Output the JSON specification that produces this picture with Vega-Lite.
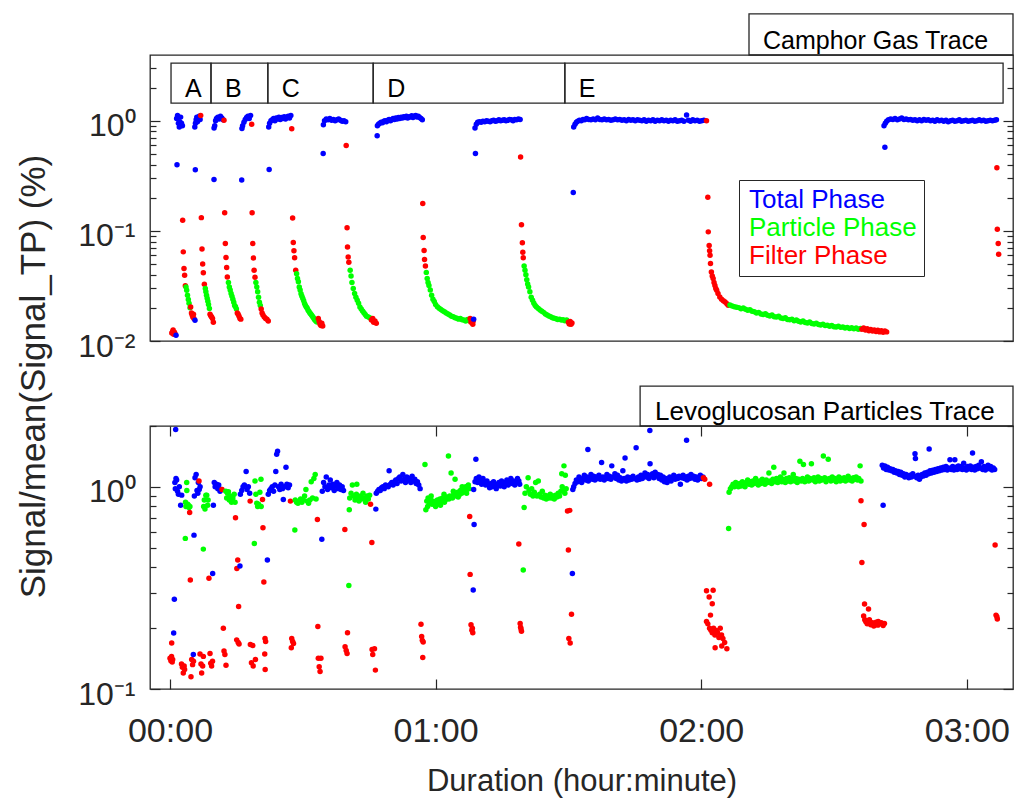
{
"$schema":"https://vega.github.io/schema/vega-lite/v6.json",
"autosize":{"type":"none"},
"padding":{"left":150,"top":55,"right":864,"bottom":745},
"background":"white",
"config":{"font":"Liberation Sans","view":{"stroke":"#262626","strokeWidth":1.3},
"axis":{"domain":false,"grid":false,"labelColor":"#262626","titleColor":"#262626","tickColor":"#262626","labelFont":"Liberation Sans","titleFont":"Liberation Sans","titleFontWeight":"normal","labelFontSize":32,"titleFontSize":32,"tickWidth":1.2,"labelOverlap":false,"labelFlush":false}},
"datasets":{
"camphor":[
{"t":0.4,"v":0.0118,"p":"F"},{"t":0.6,"v":0.0122,"p":"F"},{"t":0.7,"v":0.0126,"p":"F"},{"t":0.8,"v":0.0115,"p":"F"},{"t":1.0,"v":0.012,"p":"F"},{"t":1.1,"v":0.0117,"p":"F"},{"t":1.36,"v":0.0113,"p":"T"},
{"t":1.5,"v":1.05,"p":"T"},{"t":1.58,"v":0.398,"p":"T"},{"t":1.7,"v":1.12,"p":"T"},{"t":1.9,"v":0.95,"p":"T"},{"t":2.1,"v":0.88,"p":"T"},{"t":2.2,"v":0.98,"p":"T"},{"t":2.4,"v":1.08,"p":"T"},{"t":2.6,"v":0.95,"p":"T"},{"t":2.8,"v":0.9,"p":"T"},
{"t":2.86,"v":0.125,"p":"F"},{"t":3.0,"v":0.0645,"p":"F"},{"t":3.16,"v":0.0455,"p":"F"},{"t":3.3,"v":0.0395,"p":"F"},{"t":3.46,"v":0.0318,"p":"F"},
{"t":3.62,"v":0.031,"p":"P"},{"t":3.77,"v":0.0289,"p":"P"},{"t":3.95,"v":0.026,"p":"P"},{"t":4.14,"v":0.0238,"p":"P"},{"t":4.3,"v":0.022,"p":"P"},{"t":4.52,"v":0.02,"p":"P"},
{"t":4.67,"v":0.0204,"p":"F"},{"t":4.85,"v":0.018,"p":"F"},{"t":5.0,"v":0.0172,"p":"F"},{"t":5.15,"v":0.0165,"p":"F"},{"t":5.3,"v":0.0175,"p":"F"},{"t":5.4,"v":0.016,"p":"F"},
{"t":5.6,"v":0.88,"p":"T"},{"t":5.65,"v":0.0154,"p":"T"},{"t":5.72,"v":0.359,"p":"T"},{"t":5.75,"v":0.95,"p":"T"},{"t":5.9,"v":1.02,"p":"T"},{"t":6.05,"v":1.08,"p":"T"},{"t":6.2,"v":0.98,"p":"T"},{"t":6.4,"v":1.05,"p":"T"},{"t":6.6,"v":1.1,"p":"T"},{"t":6.8,"v":1.03,"p":"T"},
{"t":6.93,"v":1.12,"p":"F"},{"t":7.08,"v":0.132,"p":"F"},{"t":7.23,"v":0.0686,"p":"F"},{"t":7.38,"v":0.05,"p":"F"},{"t":7.53,"v":0.0416,"p":"F"},{"t":7.76,"v":0.0327,"p":"F"},
{"t":7.98,"v":0.03,"p":"P"},{"t":8.1,"v":0.028,"p":"P"},{"t":8.25,"v":0.026,"p":"P"},{"t":8.4,"v":0.0245,"p":"P"},{"t":8.55,"v":0.023,"p":"P"},{"t":8.7,"v":0.0215,"p":"P"},{"t":8.9,"v":0.0197,"p":"P"},
{"t":9.04,"v":0.0175,"p":"F"},{"t":9.2,"v":0.017,"p":"F"},{"t":9.4,"v":0.0165,"p":"F"},{"t":9.6,"v":0.016,"p":"F"},{"t":9.79,"v":0.0148,"p":"F"},
{"t":9.94,"v":0.293,"p":"T"},{"t":9.95,"v":0.86,"p":"T"},{"t":10.1,"v":0.9,"p":"T"},{"t":10.3,"v":1.0,"p":"T"},{"t":10.5,"v":1.05,"p":"T"},{"t":10.8,"v":1.08,"p":"T"},{"t":11.1,"v":1.04,"p":"T"},{"t":11.4,"v":1.1,"p":"T"},{"t":11.7,"v":1.06,"p":"T"},{"t":12.0,"v":1.02,"p":"T"},
{"t":12.2,"v":1.01,"p":"F"},{"t":12.35,"v":0.146,"p":"F"},{"t":12.5,"v":0.0767,"p":"F"},{"t":12.65,"v":0.0573,"p":"F"},{"t":12.8,"v":0.0465,"p":"F"},{"t":12.95,"v":0.0382,"p":"F"},
{"t":13.2,"v":0.034,"p":"P"},{"t":13.4,"v":0.031,"p":"P"},{"t":13.6,"v":0.029,"p":"P"},{"t":13.8,"v":0.027,"p":"P"},{"t":14.0,"v":0.0255,"p":"P"},{"t":14.2,"v":0.024,"p":"P"},{"t":14.4,"v":0.0225,"p":"P"},{"t":14.6,"v":0.021,"p":"P"},{"t":14.8,"v":0.0205,"p":"P"},{"t":15.0,"v":0.0195,"p":"P"},
{"t":15.2,"v":0.018,"p":"F"},{"t":15.4,"v":0.0175,"p":"F"},{"t":15.6,"v":0.0168,"p":"F"},{"t":15.8,"v":0.016,"p":"F"},{"t":16.0,"v":0.0158,"p":"F"},
{"t":16.2,"v":0.29,"p":"T"},{"t":16.25,"v":0.85,"p":"T"},{"t":16.4,"v":0.9,"p":"T"},{"t":16.7,"v":0.97,"p":"T"},{"t":17.0,"v":1.03,"p":"T"},{"t":17.3,"v":1.07,"p":"T"},{"t":17.6,"v":1.1,"p":"T"},{"t":17.9,"v":1.05,"p":"T"},{"t":18.2,"v":1.12,"p":"T"},
{"t":18.45,"v":0.93,"p":"F"},{"t":18.55,"v":0.146,"p":"F"},{"t":18.7,"v":0.0767,"p":"F"},{"t":18.85,"v":0.0567,"p":"F"},{"t":19.0,"v":0.044,"p":"F"},{"t":19.2,"v":0.038,"p":"F"},
{"t":19.4,"v":0.034,"p":"P"},{"t":19.6,"v":0.031,"p":"P"},{"t":19.8,"v":0.028,"p":"P"},{"t":20.0,"v":0.025,"p":"P"},{"t":20.2,"v":0.0225,"p":"P"},{"t":20.4,"v":0.021,"p":"P"},
{"t":20.6,"v":0.0195,"p":"F"},{"t":20.8,"v":0.018,"p":"F"},{"t":21.0,"v":0.0172,"p":"F"},{"t":21.3,"v":0.0165,"p":"F"},{"t":21.6,"v":0.016,"p":"F"},{"t":21.9,"v":0.0158,"p":"F"},{"t":22.2,"v":0.0152,"p":"F"},
{"t":22.3,"v":0.88,"p":"T"},{"t":22.4,"v":0.361,"p":"T"},{"t":22.5,"v":0.95,"p":"T"},{"t":22.8,"v":1.0,"p":"T"},{"t":23.1,"v":1.02,"p":"T"},{"t":23.4,"v":1.05,"p":"T"},{"t":23.7,"v":1.0,"p":"T"},{"t":24.0,"v":1.06,"p":"T"},{"t":24.3,"v":1.04,"p":"T"},{"t":24.6,"v":1.08,"p":"T"},{"t":24.9,"v":1.03,"p":"T"},{"t":25.2,"v":1.07,"p":"T"},{"t":25.5,"v":1.05,"p":"T"},{"t":25.8,"v":1.09,"p":"T"},{"t":26.1,"v":1.04,"p":"T"},{"t":26.4,"v":1.08,"p":"T"},{"t":26.7,"v":1.1,"p":"T"},{"t":27.0,"v":1.06,"p":"T"},{"t":27.3,"v":1.12,"p":"T"},
{"t":27.5,"v":0.846,"p":"F"},{"t":27.7,"v":0.131,"p":"F"},{"t":27.85,"v":0.0785,"p":"F"},{"t":28.0,"v":0.0659,"p":"F"},{"t":28.15,"v":0.057,"p":"F"},{"t":28.4,"v":0.044,"p":"F"},
{"t":28.6,"v":0.0409,"p":"P"},{"t":28.8,"v":0.037,"p":"P"},{"t":29.0,"v":0.0345,"p":"P"},{"t":29.2,"v":0.031,"p":"P"},{"t":29.4,"v":0.029,"p":"P"},{"t":29.6,"v":0.0269,"p":"P"},{"t":29.8,"v":0.0255,"p":"P"},{"t":30.0,"v":0.0243,"p":"P"},{"t":30.2,"v":0.0232,"p":"P"},{"t":30.4,"v":0.0219,"p":"P"},{"t":30.6,"v":0.021,"p":"P"},{"t":30.8,"v":0.0204,"p":"P"},{"t":31.0,"v":0.0198,"p":"P"},{"t":31.2,"v":0.019,"p":"P"},{"t":31.4,"v":0.0185,"p":"P"},{"t":31.6,"v":0.018,"p":"P"},{"t":31.8,"v":0.0176,"p":"P"},{"t":32.0,"v":0.0171,"p":"P"},{"t":32.2,"v":0.0167,"p":"P"},{"t":32.4,"v":0.0163,"p":"P"},{"t":32.6,"v":0.0158,"p":"P"},{"t":32.8,"v":0.0154,"p":"P"},{"t":33.0,"v":0.0151,"p":"P"},{"t":33.2,"v":0.0149,"p":"P"},
{"t":33.5,"v":0.016,"p":"F"},{"t":33.7,"v":0.015,"p":"F"},{"t":33.9,"v":0.0142,"p":"F"},{"t":34.1,"v":0.0138,"p":"F"},{"t":34.3,"v":0.0145,"p":"F"},{"t":34.5,"v":0.0137,"p":"F"},
{"t":34.6,"v":0.505,"p":"T"},{"t":34.65,"v":0.92,"p":"T"},{"t":34.9,"v":1.0,"p":"T"},{"t":35.3,"v":1.04,"p":"T"},{"t":35.7,"v":1.02,"p":"T"},{"t":36.1,"v":1.05,"p":"T"},{"t":36.5,"v":1.01,"p":"T"},{"t":36.9,"v":1.03,"p":"T"},{"t":37.3,"v":1.0,"p":"T"},{"t":37.7,"v":1.02,"p":"T"},{"t":38.1,"v":1.04,"p":"T"},{"t":38.5,"v":1.01,"p":"T"},{"t":38.9,"v":0.99,"p":"T"},{"t":39.3,"v":1.0,"p":"T"},{"t":39.7,"v":0.98,"p":"T"},
{"t":39.8,"v":0.597,"p":"F"},{"t":40.0,"v":0.107,"p":"F"},{"t":40.1,"v":0.0715,"p":"F"},{"t":40.25,"v":0.058,"p":"F"},{"t":40.4,"v":0.052,"p":"F"},
{"t":40.7,"v":0.044,"p":"P"},{"t":40.9,"v":0.039,"p":"P"},{"t":41.1,"v":0.034,"p":"P"},{"t":41.4,"v":0.03,"p":"P"},{"t":41.7,"v":0.027,"p":"P"},{"t":42.0,"v":0.025,"p":"P"},{"t":42.3,"v":0.0235,"p":"P"},{"t":42.6,"v":0.022,"p":"P"},{"t":42.9,"v":0.0204,"p":"P"},{"t":43.2,"v":0.0195,"p":"P"},{"t":43.5,"v":0.0187,"p":"P"},{"t":43.8,"v":0.0181,"p":"P"},{"t":44.1,"v":0.0174,"p":"P"},{"t":44.4,"v":0.0168,"p":"P"},{"t":44.8,"v":0.0165,"p":"P"},{"t":45.2,"v":0.0162,"p":"P"},
{"t":45.5,"v":0.0155,"p":"F"},{"t":45.8,"v":0.016,"p":"F"},{"t":46.0,"v":0.0148,"p":"F"},{"t":46.3,"v":0.0152,"p":"F"},{"t":46.6,"v":0.0145,"p":"F"},
{"t":46.8,"v":0.73,"p":"T"},{"t":46.85,"v":0.9,"p":"T"},{"t":47.1,"v":0.93,"p":"T"},{"t":47.4,"v":0.95,"p":"T"},{"t":47.7,"v":0.97,"p":"T"},{"t":48.0,"v":0.96,"p":"T"},{"t":48.3,"v":0.99,"p":"T"},{"t":48.6,"v":1.0,"p":"T"},{"t":48.9,"v":0.98,"p":"T"},{"t":49.2,"v":1.01,"p":"T"},{"t":49.5,"v":1.03,"p":"T"},{"t":49.8,"v":1.0,"p":"T"},{"t":50.1,"v":1.02,"p":"T"},{"t":50.4,"v":1.05,"p":"T"},{"t":50.7,"v":1.03,"p":"T"},{"t":51.0,"v":1.06,"p":"T"},{"t":51.3,"v":1.04,"p":"T"},{"t":51.6,"v":1.07,"p":"T"},{"t":51.9,"v":1.05,"p":"T"},{"t":52.2,"v":1.08,"p":"T"},{"t":52.5,"v":1.06,"p":"T"},{"t":52.8,"v":1.09,"p":"T"},{"t":53.1,"v":1.07,"p":"T"},{"t":53.4,"v":1.1,"p":"T"},{"t":53.7,"v":1.06,"p":"T"},{"t":54.0,"v":1.09,"p":"T"},{"t":54.3,"v":1.08,"p":"T"},{"t":54.6,"v":1.11,"p":"T"},{"t":54.9,"v":1.07,"p":"T"},{"t":55.2,"v":1.1,"p":"T"},{"t":55.5,"v":1.12,"p":"T"},{"t":55.8,"v":1.08,"p":"T"},{"t":56.1,"v":1.1,"p":"T"},{"t":56.4,"v":1.07,"p":"T"},{"t":56.7,"v":1.05,"p":"T"},{"t":57.0,"v":1.02,"p":"T"},
{"t":57.1,"v":0.177,"p":"F"},{"t":57.2,"v":0.087,"p":"F"},{"t":57.4,"v":0.0665,"p":"F"},{"t":57.5,"v":0.055,"p":"F"},{"t":57.7,"v":0.048,"p":"F"},
{"t":57.9,"v":0.042,"p":"P"},{"t":58.1,"v":0.037,"p":"P"},{"t":58.3,"v":0.034,"p":"P"},{"t":58.5,"v":0.032,"p":"P"},{"t":58.8,"v":0.029,"p":"P"},{"t":59.1,"v":0.026,"p":"P"},{"t":59.4,"v":0.024,"p":"P"},{"t":59.7,"v":0.0228,"p":"P"},{"t":60.0,"v":0.0215,"p":"P"},{"t":60.4,"v":0.0205,"p":"P"},{"t":60.8,"v":0.0198,"p":"P"},{"t":61.2,"v":0.0193,"p":"P"},{"t":61.6,"v":0.0188,"p":"P"},{"t":62.0,"v":0.0184,"p":"P"},{"t":62.4,"v":0.018,"p":"P"},{"t":62.8,"v":0.0176,"p":"P"},{"t":63.2,"v":0.0172,"p":"P"},{"t":63.6,"v":0.0168,"p":"P"},{"t":64.0,"v":0.0166,"p":"P"},{"t":64.4,"v":0.0163,"p":"P"},{"t":64.8,"v":0.0161,"p":"P"},{"t":65.2,"v":0.0158,"p":"P"},{"t":65.6,"v":0.016,"p":"P"},{"t":66.0,"v":0.0156,"p":"P"},{"t":66.4,"v":0.0155,"p":"P"},{"t":66.8,"v":0.0152,"p":"P"},{"t":67.2,"v":0.0157,"p":"P"},{"t":67.6,"v":0.0153,"p":"P"},
{"t":67.8,"v":0.016,"p":"F"},{"t":68.0,"v":0.0148,"p":"F"},{"t":68.2,"v":0.0155,"p":"F"},{"t":68.4,"v":0.0142,"p":"F"},{"t":68.5,"v":0.0152,"p":"F"},
{"t":68.6,"v":0.0158,"p":"T"},{"t":69.0,"v":0.505,"p":"T"},{"t":68.9,"v":0.86,"p":"T"},{"t":69.2,"v":0.93,"p":"T"},{"t":69.5,"v":0.97,"p":"T"},{"t":69.9,"v":0.98,"p":"T"},{"t":70.3,"v":0.97,"p":"T"},{"t":70.7,"v":0.99,"p":"T"},{"t":71.1,"v":0.98,"p":"T"},{"t":71.5,"v":1.0,"p":"T"},{"t":71.9,"v":0.99,"p":"T"},{"t":72.3,"v":0.98,"p":"T"},{"t":72.7,"v":1.0,"p":"T"},{"t":73.1,"v":1.01,"p":"T"},{"t":73.5,"v":0.99,"p":"T"},{"t":73.9,"v":1.0,"p":"T"},{"t":74.3,"v":1.02,"p":"T"},{"t":74.7,"v":1.0,"p":"T"},{"t":75.1,"v":1.01,"p":"T"},{"t":75.5,"v":1.02,"p":"T"},{"t":75.9,"v":1.0,"p":"T"},{"t":76.3,"v":1.01,"p":"T"},{"t":76.7,"v":1.03,"p":"T"},{"t":77.1,"v":1.02,"p":"T"},{"t":77.5,"v":1.0,"p":"T"},{"t":77.9,"v":1.03,"p":"T"},{"t":78.3,"v":1.02,"p":"T"},{"t":78.7,"v":1.04,"p":"T"},{"t":79.1,"v":1.03,"p":"T"},
{"t":79.2,"v":0.47,"p":"F"},{"t":79.4,"v":0.114,"p":"F"},{"t":79.6,"v":0.078,"p":"F"},{"t":79.7,"v":0.064,"p":"F"},{"t":79.8,"v":0.057,"p":"F"},
{"t":80.0,"v":0.048,"p":"P"},{"t":80.2,"v":0.044,"p":"P"},{"t":80.4,"v":0.04,"p":"P"},{"t":80.6,"v":0.036,"p":"P"},{"t":80.8,"v":0.033,"p":"P"},{"t":81.0,"v":0.031,"p":"P"},{"t":81.3,"v":0.028,"p":"P"},{"t":81.6,"v":0.025,"p":"P"},{"t":81.9,"v":0.0235,"p":"P"},{"t":82.2,"v":0.022,"p":"P"},{"t":82.5,"v":0.021,"p":"P"},{"t":82.8,"v":0.0204,"p":"P"},{"t":83.2,"v":0.0197,"p":"P"},{"t":83.6,"v":0.0191,"p":"P"},{"t":84.0,"v":0.0186,"p":"P"},{"t":84.4,"v":0.0182,"p":"P"},{"t":84.8,"v":0.0176,"p":"P"},{"t":85.2,"v":0.0172,"p":"P"},{"t":85.6,"v":0.0169,"p":"P"},{"t":86.0,"v":0.0166,"p":"P"},{"t":86.4,"v":0.0163,"p":"P"},{"t":86.8,"v":0.0161,"p":"P"},{"t":87.2,"v":0.0159,"p":"P"},{"t":87.6,"v":0.0157,"p":"P"},{"t":88.0,"v":0.0158,"p":"P"},{"t":88.4,"v":0.0155,"p":"P"},{"t":88.8,"v":0.0156,"p":"P"},{"t":89.2,"v":0.0153,"p":"P"},{"t":89.6,"v":0.0155,"p":"P"},
{"t":90.0,"v":0.0148,"p":"F"},{"t":90.2,"v":0.0143,"p":"F"},{"t":90.4,"v":0.015,"p":"F"},{"t":90.6,"v":0.0142,"p":"F"},{"t":90.8,"v":0.0146,"p":"F"},
{"t":91.1,"v":0.223,"p":"T"},{"t":91.2,"v":0.88,"p":"T"},{"t":91.5,"v":0.93,"p":"T"},{"t":91.8,"v":0.97,"p":"T"},{"t":92.1,"v":0.99,"p":"T"},{"t":92.5,"v":1.01,"p":"T"},{"t":92.9,"v":1.0,"p":"T"},{"t":93.3,"v":1.03,"p":"T"},{"t":93.7,"v":1.02,"p":"T"},{"t":94.1,"v":1.05,"p":"T"},{"t":94.6,"v":1.03,"p":"T"},{"t":95.1,"v":1.02,"p":"T"},{"t":95.6,"v":1.04,"p":"T"},{"t":96.1,"v":1.02,"p":"T"},{"t":96.6,"v":1.06,"p":"T"},{"t":97.1,"v":1.03,"p":"T"},{"t":97.6,"v":1.02,"p":"T"},{"t":98.1,"v":1.04,"p":"T"},{"t":98.6,"v":1.02,"p":"T"},{"t":99.1,"v":1.03,"p":"T"},{"t":99.6,"v":1.01,"p":"T"},{"t":100.1,"v":1.02,"p":"T"},{"t":100.6,"v":1.04,"p":"T"},{"t":101.1,"v":1.02,"p":"T"},{"t":101.6,"v":1.03,"p":"T"},{"t":102.1,"v":1.01,"p":"T"},{"t":102.6,"v":1.02,"p":"T"},{"t":103.1,"v":1.0,"p":"T"},{"t":103.6,"v":1.03,"p":"T"},{"t":104.1,"v":1.01,"p":"T"},{"t":104.6,"v":1.02,"p":"T"},{"t":105.1,"v":1.0,"p":"T"},{"t":105.6,"v":1.02,"p":"T"},{"t":106.1,"v":1.01,"p":"T"},{"t":106.6,"v":1.0,"p":"T"},{"t":107.1,"v":1.02,"p":"T"},{"t":107.6,"v":0.99,"p":"T"},{"t":108.1,"v":1.01,"p":"T"},{"t":108.6,"v":1.0,"p":"T"},{"t":109.1,"v":1.02,"p":"T"},{"t":109.6,"v":0.99,"p":"T"},{"t":110.1,"v":1.01,"p":"T"},{"t":110.6,"v":1.0,"p":"T"},{"t":111.1,"v":1.02,"p":"T"},{"t":111.6,"v":1.0,"p":"T"},{"t":112.1,"v":1.01,"p":"T"},{"t":112.6,"v":0.99,"p":"T"},{"t":113.1,"v":1.01,"p":"T"},{"t":113.6,"v":1.0,"p":"T"},{"t":114.1,"v":1.02,"p":"T"},{"t":114.6,"v":0.99,"p":"T"},{"t":115.1,"v":1.0,"p":"T"},{"t":115.6,"v":1.01,"p":"T"},{"t":116.1,"v":0.99,"p":"T"},{"t":116.7,"v":1.13,"p":"T"},{"t":117.1,"v":1.01,"p":"T"},{"t":117.6,"v":0.99,"p":"T"},{"t":118.1,"v":1.02,"p":"T"},{"t":118.6,"v":1.0,"p":"T"},{"t":119.1,"v":1.01,"p":"T"},{"t":119.6,"v":0.99,"p":"T"},{"t":120.1,"v":1.0,"p":"T"},{"t":120.6,"v":1.01,"p":"T"},
{"t":121.2,"v":1.0,"p":"F"},{"t":121.5,"v":0.202,"p":"F"},{"t":121.6,"v":0.098,"p":"F"},{"t":121.8,"v":0.0736,"p":"F"},{"t":121.9,"v":0.066,"p":"F"},{"t":122.0,"v":0.06,"p":"F"},{"t":122.1,"v":0.0505,"p":"F"},{"t":122.3,"v":0.0424,"p":"F"},{"t":122.5,"v":0.039,"p":"F"},{"t":122.7,"v":0.0369,"p":"F"},{"t":122.9,"v":0.034,"p":"F"},{"t":123.1,"v":0.032,"p":"F"},{"t":123.3,"v":0.03,"p":"F"},{"t":123.5,"v":0.0289,"p":"F"},{"t":123.8,"v":0.027,"p":"F"},{"t":124.2,"v":0.0251,"p":"F"},{"t":124.6,"v":0.024,"p":"F"},{"t":125.0,"v":0.0232,"p":"F"},{"t":125.4,"v":0.0226,"p":"F"},{"t":125.8,"v":0.0218,"p":"F"},{"t":126.1,"v":0.0211,"p":"F"},
{"t":126.5,"v":0.0212,"p":"P"},{"t":127.0,"v":0.0208,"p":"P"},{"t":127.5,"v":0.0205,"p":"P"},{"t":128.0,"v":0.0203,"p":"P"},{"t":128.5,"v":0.0201,"p":"P"},{"t":129.0,"v":0.0196,"p":"P"},{"t":129.5,"v":0.0199,"p":"P"},{"t":130.0,"v":0.0194,"p":"P"},{"t":130.5,"v":0.019,"p":"P"},{"t":131.0,"v":0.0192,"p":"P"},{"t":131.5,"v":0.0186,"p":"P"},{"t":132.0,"v":0.0184,"p":"P"},{"t":132.5,"v":0.018,"p":"P"},{"t":133.0,"v":0.0182,"p":"P"},{"t":133.5,"v":0.0176,"p":"P"},{"t":134.0,"v":0.0174,"p":"P"},{"t":134.5,"v":0.0177,"p":"P"},{"t":135.0,"v":0.0171,"p":"P"},{"t":135.5,"v":0.0169,"p":"P"},{"t":136.0,"v":0.0172,"p":"P"},{"t":136.5,"v":0.0166,"p":"P"},{"t":137.0,"v":0.0165,"p":"P"},{"t":137.5,"v":0.0168,"p":"P"},{"t":138.0,"v":0.0162,"p":"P"},{"t":138.5,"v":0.016,"p":"P"},{"t":139.0,"v":0.0163,"p":"P"},{"t":139.5,"v":0.0157,"p":"P"},{"t":140.0,"v":0.0156,"p":"P"},{"t":140.5,"v":0.0158,"p":"P"},{"t":141.0,"v":0.0153,"p":"P"},{"t":141.5,"v":0.0155,"p":"P"},{"t":142.0,"v":0.0151,"p":"P"},{"t":142.5,"v":0.0149,"p":"P"},{"t":143.0,"v":0.0152,"p":"P"},{"t":143.5,"v":0.0147,"p":"P"},{"t":144.0,"v":0.0146,"p":"P"},{"t":144.5,"v":0.0149,"p":"P"},{"t":145.0,"v":0.0144,"p":"P"},{"t":145.5,"v":0.0143,"p":"P"},{"t":146.0,"v":0.0145,"p":"P"},{"t":146.5,"v":0.0141,"p":"P"},{"t":147.0,"v":0.014,"p":"P"},{"t":147.5,"v":0.0142,"p":"P"},{"t":148.0,"v":0.0138,"p":"P"},{"t":148.5,"v":0.0139,"p":"P"},{"t":149.0,"v":0.0136,"p":"P"},{"t":149.5,"v":0.0138,"p":"P"},{"t":150.0,"v":0.0135,"p":"P"},{"t":150.5,"v":0.0134,"p":"P"},{"t":151.0,"v":0.0136,"p":"P"},{"t":151.5,"v":0.0133,"p":"P"},{"t":152.0,"v":0.0134,"p":"P"},{"t":152.5,"v":0.0131,"p":"P"},{"t":153.0,"v":0.0133,"p":"P"},{"t":153.5,"v":0.013,"p":"P"},{"t":154.0,"v":0.0132,"p":"P"},{"t":154.5,"v":0.0129,"p":"P"},{"t":155.0,"v":0.0131,"p":"P"},{"t":155.5,"v":0.0128,"p":"P"},{"t":156.0,"v":0.013,"p":"P"},
{"t":156.3,"v":0.0128,"p":"F"},{"t":156.7,"v":0.0131,"p":"F"},{"t":157.1,"v":0.0126,"p":"F"},{"t":157.5,"v":0.0129,"p":"F"},{"t":157.9,"v":0.0124,"p":"F"},{"t":158.3,"v":0.0127,"p":"F"},{"t":158.7,"v":0.0123,"p":"F"},{"t":159.1,"v":0.0126,"p":"F"},{"t":159.5,"v":0.0122,"p":"F"},{"t":159.9,"v":0.0125,"p":"F"},{"t":160.3,"v":0.0121,"p":"F"},{"t":160.7,"v":0.0124,"p":"F"},{"t":161.1,"v":0.012,"p":"F"},{"t":161.5,"v":0.0123,"p":"F"},{"t":161.9,"v":0.0121,"p":"F"},
{"t":161.5,"v":0.576,"p":"T"},{"t":161.3,"v":0.9,"p":"T"},{"t":161.6,"v":0.95,"p":"T"},{"t":161.9,"v":0.99,"p":"T"},{"t":162.3,"v":1.02,"p":"T"},{"t":162.8,"v":1.04,"p":"T"},{"t":163.3,"v":1.03,"p":"T"},{"t":163.8,"v":1.05,"p":"T"},{"t":164.3,"v":1.02,"p":"T"},{"t":164.8,"v":1.04,"p":"T"},{"t":165.3,"v":1.06,"p":"T"},{"t":165.8,"v":1.03,"p":"T"},{"t":166.3,"v":1.04,"p":"T"},{"t":166.8,"v":1.02,"p":"T"},{"t":167.3,"v":1.03,"p":"T"},{"t":167.8,"v":1.01,"p":"T"},{"t":168.3,"v":1.02,"p":"T"},{"t":168.8,"v":1.0,"p":"T"},{"t":169.3,"v":1.02,"p":"T"},{"t":169.8,"v":1.0,"p":"T"},{"t":170.3,"v":1.03,"p":"T"},{"t":170.8,"v":1.01,"p":"T"},{"t":171.3,"v":1.02,"p":"T"},{"t":171.8,"v":1.0,"p":"T"},{"t":172.3,"v":1.01,"p":"T"},{"t":172.8,"v":0.99,"p":"T"},{"t":173.3,"v":1.02,"p":"T"},{"t":173.8,"v":1.0,"p":"T"},{"t":174.3,"v":1.01,"p":"T"},{"t":174.8,"v":0.99,"p":"T"},{"t":175.3,"v":1.01,"p":"T"},{"t":175.8,"v":0.98,"p":"T"},{"t":176.3,"v":1.0,"p":"T"},{"t":176.8,"v":1.01,"p":"T"},{"t":177.3,"v":0.99,"p":"T"},{"t":177.8,"v":1.0,"p":"T"},{"t":178.3,"v":1.02,"p":"T"},{"t":178.8,"v":0.99,"p":"T"},{"t":179.3,"v":1.0,"p":"T"},{"t":179.8,"v":1.01,"p":"T"},{"t":180.3,"v":0.99,"p":"T"},{"t":180.8,"v":1.0,"p":"T"},{"t":181.3,"v":1.01,"p":"T"},{"t":181.8,"v":0.99,"p":"T"},{"t":182.3,"v":1.0,"p":"T"},{"t":182.8,"v":1.02,"p":"T"},{"t":183.3,"v":1.0,"p":"T"},{"t":183.8,"v":1.01,"p":"T"},{"t":184.3,"v":0.99,"p":"T"},{"t":184.8,"v":1.0,"p":"T"},{"t":185.3,"v":1.01,"p":"T"},{"t":185.8,"v":1.0,"p":"T"},{"t":186.3,"v":1.01,"p":"T"},{"t":186.7,"v":1.02,"p":"T"},
{"t":186.8,"v":0.374,"p":"F"},{"t":186.9,"v":0.1035,"p":"F"},{"t":187.1,"v":0.0767,"p":"F"},{"t":187.2,"v":0.0614,"p":"F"}
],
"levo":[
{"t":0.0,"v":0.142,"p":"F"},{"t":0.2,"v":0.138,"p":"F"},{"t":0.35,"v":0.145,"p":"F"},{"t":0.5,"v":0.136,"p":"F"},{"t":0.6,"v":0.14,"p":"F"},{"t":0.38,"v":0.169,"p":"F"},
{"t":0.83,"v":0.189,"p":"T"},{"t":0.98,"v":0.278,"p":"T"},{"t":1.28,"v":1.92,"p":"T"},{"t":1.1,"v":1.05,"p":"T"},{"t":1.2,"v":0.98,"p":"T"},{"t":1.35,"v":1.1,"p":"T"},{"t":1.5,"v":1.08,"p":"T"},{"t":1.7,"v":0.95,"p":"T"},{"t":1.9,"v":0.92,"p":"T"},{"t":2.1,"v":1.0,"p":"T"},{"t":2.4,"v":0.81,"p":"T"},{"t":2.64,"v":0.91,"p":"T"},
{"t":2.6,"v":0.133,"p":"F"},{"t":2.8,"v":0.128,"p":"F"},{"t":3.0,"v":0.12,"p":"F"},{"t":3.2,"v":0.13,"p":"F"},{"t":3.3,"v":0.125,"p":"F"},
{"t":3.46,"v":0.556,"p":"P"},{"t":3.5,"v":0.84,"p":"P"},{"t":3.6,"v":0.8,"p":"P"},{"t":3.77,"v":1.05,"p":"P"},{"t":3.8,"v":0.96,"p":"P"},{"t":4.0,"v":0.82,"p":"P"},{"t":4.14,"v":0.81,"p":"P"},{"t":4.3,"v":0.79,"p":"P"},{"t":4.5,"v":0.8,"p":"P"},
{"t":4.44,"v":0.747,"p":"F"},{"t":4.59,"v":0.346,"p":"F"},{"t":4.74,"v":0.115,"p":"F"},{"t":4.9,"v":0.14,"p":"F"},{"t":5.1,"v":0.132,"p":"F"},{"t":5.3,"v":0.137,"p":"F"},
{"t":5.27,"v":0.148,"p":"T"},{"t":5.42,"v":0.577,"p":"T"},{"t":5.5,"v":0.9,"p":"T"},{"t":5.65,"v":1.11,"p":"T"},{"t":5.9,"v":1.15,"p":"T"},{"t":6.1,"v":0.96,"p":"T"},{"t":6.3,"v":0.93,"p":"T"},{"t":6.4,"v":1.05,"p":"T"},{"t":6.6,"v":0.97,"p":"T"},{"t":6.8,"v":1.0,"p":"T"},
{"t":6.55,"v":1.07,"p":"F"},{"t":6.78,"v":0.149,"p":"F"},{"t":7.0,"v":0.133,"p":"F"},{"t":7.15,"v":0.12,"p":"F"},{"t":7.38,"v":0.13,"p":"F"},{"t":7.53,"v":0.145,"p":"F"},
{"t":7.53,"v":0.492,"p":"P"},{"t":7.6,"v":0.8,"p":"P"},{"t":7.75,"v":0.86,"p":"P"},{"t":7.9,"v":0.776,"p":"P"},{"t":8.1,"v":0.91,"p":"P"},{"t":8.3,"v":0.91,"p":"P"},{"t":8.5,"v":0.81,"p":"P"},{"t":8.6,"v":0.86,"p":"P"},
{"t":8.8,"v":0.353,"p":"F"},{"t":9.04,"v":0.15,"p":"F"},{"t":9.2,"v":0.134,"p":"F"},{"t":9.4,"v":0.13,"p":"F"},{"t":9.6,"v":0.137,"p":"F"},
{"t":9.64,"v":0.373,"p":"T"},{"t":9.8,"v":0.81,"p":"T"},{"t":10.0,"v":1.05,"p":"T"},{"t":10.2,"v":1.0,"p":"T"},{"t":10.5,"v":1.03,"p":"T"},{"t":10.8,"v":0.98,"p":"T"},{"t":11.0,"v":1.02,"p":"T"},{"t":11.3,"v":0.95,"p":"T"},{"t":11.6,"v":0.97,"p":"T"},
{"t":11.75,"v":0.97,"p":"F"},{"t":12.05,"v":0.2,"p":"F"},{"t":12.2,"v":0.154,"p":"F"},{"t":12.4,"v":0.148,"p":"F"},{"t":12.65,"v":0.131,"p":"F"},
{"t":12.6,"v":0.95,"p":"P"},{"t":12.8,"v":0.88,"p":"P"},{"t":13.0,"v":0.93,"p":"P"},{"t":13.2,"v":0.945,"p":"P"},{"t":13.4,"v":0.86,"p":"P"},{"t":13.6,"v":0.9,"p":"P"},{"t":13.9,"v":0.84,"p":"P"},{"t":14.2,"v":0.88,"p":"P"},{"t":14.5,"v":0.92,"p":"P"},{"t":14.7,"v":0.84,"p":"P"},
{"t":14.8,"v":0.703,"p":"F"},{"t":15.1,"v":0.395,"p":"F"},{"t":15.3,"v":0.435,"p":"F"},{"t":15.5,"v":0.256,"p":"F"},{"t":15.06,"v":0.175,"p":"F"},{"t":15.4,"v":0.17,"p":"F"},{"t":15.6,"v":0.167,"p":"F"},
{"t":15.8,"v":0.406,"p":"T"},{"t":15.9,"v":0.92,"p":"T"},{"t":16.2,"v":0.96,"p":"T"},{"t":16.5,"v":1.0,"p":"T"},{"t":16.8,"v":1.02,"p":"T"},{"t":17.2,"v":1.19,"p":"T"},{"t":17.4,"v":0.97,"p":"T"},{"t":17.7,"v":1.0,"p":"T"},{"t":18.0,"v":0.93,"p":"T"},
{"t":18.1,"v":0.85,"p":"F"},{"t":18.15,"v":0.166,"p":"F"},{"t":18.7,"v":0.164,"p":"F"},{"t":18.4,"v":0.135,"p":"F"},{"t":19.3,"v":0.14,"p":"F"},{"t":18.8,"v":0.13,"p":"F"},
{"t":19.05,"v":0.525,"p":"P"},{"t":19.2,"v":1.07,"p":"P"},{"t":19.4,"v":0.92,"p":"P"},{"t":19.6,"v":0.83,"p":"P"},{"t":19.8,"v":0.8,"p":"P"},{"t":20.0,"v":0.82,"p":"P"},{"t":20.3,"v":0.94,"p":"P"},{"t":20.55,"v":1.09,"p":"P"},{"t":20.6,"v":0.8,"p":"P"},
{"t":20.9,"v":0.866,"p":"F"},{"t":21.0,"v":0.628,"p":"F"},{"t":21.2,"v":0.338,"p":"F"},{"t":21.4,"v":0.149,"p":"F"},{"t":21.46,"v":0.178,"p":"F"},{"t":21.6,"v":0.172,"p":"F"},{"t":21.5,"v":0.125,"p":"F"},
{"t":22.0,"v":0.435,"p":"T"},{"t":22.2,"v":0.92,"p":"T"},{"t":22.5,"v":0.96,"p":"T"},{"t":22.8,"v":0.98,"p":"T"},{"t":23.1,"v":1.0,"p":"T"},{"t":23.4,"v":0.95,"p":"T"},{"t":23.7,"v":1.02,"p":"T"},{"t":23.9,"v":1.19,"p":"T"},{"t":24.1,"v":1.45,"p":"T"},{"t":24.3,"v":1.5,"p":"T"},{"t":24.5,"v":1.0,"p":"T"},{"t":24.8,"v":0.97,"p":"T"},{"t":25.1,"v":1.03,"p":"T"},{"t":25.4,"v":0.98,"p":"T"},{"t":25.6,"v":0.866,"p":"T"},{"t":25.9,"v":1.0,"p":"T"},{"t":26.2,"v":1.25,"p":"T"},{"t":26.4,"v":1.03,"p":"T"},{"t":26.7,"v":0.99,"p":"T"},{"t":27.0,"v":1.02,"p":"T"},
{"t":27.2,"v":0.85,"p":"F"},{"t":27.5,"v":0.178,"p":"F"},{"t":27.7,"v":0.172,"p":"F"},{"t":27.9,"v":0.168,"p":"F"},{"t":27.4,"v":0.16,"p":"F"},
{"t":28.2,"v":0.611,"p":"P"},{"t":28.3,"v":0.86,"p":"P"},{"t":28.6,"v":0.84,"p":"P"},{"t":28.9,"v":0.83,"p":"P"},{"t":29.2,"v":0.85,"p":"P"},{"t":29.5,"v":0.87,"p":"P"},{"t":29.8,"v":0.84,"p":"P"},{"t":30.1,"v":0.86,"p":"P"},{"t":30.4,"v":0.9,"p":"P"},{"t":30.7,"v":0.97,"p":"P"},{"t":31.0,"v":0.85,"p":"P"},{"t":31.3,"v":0.83,"p":"P"},{"t":31.6,"v":0.86,"p":"P"},{"t":31.9,"v":1.06,"p":"P"},{"t":32.2,"v":0.88,"p":"P"},{"t":32.5,"v":1.1,"p":"P"},{"t":32.8,"v":1.15,"p":"P"},{"t":33.0,"v":0.87,"p":"P"},
{"t":33.3,"v":0.69,"p":"F"},{"t":33.4,"v":0.204,"p":"F"},{"t":33.5,"v":0.142,"p":"F"},{"t":33.7,"v":0.129,"p":"F"},{"t":33.9,"v":0.122,"p":"F"},{"t":34.1,"v":0.142,"p":"F"},
{"t":34.3,"v":0.55,"p":"T"},{"t":34.4,"v":0.95,"p":"T"},{"t":34.7,"v":1.05,"p":"T"},{"t":35.0,"v":1.0,"p":"T"},{"t":35.3,"v":1.12,"p":"T"},{"t":35.6,"v":0.97,"p":"T"},{"t":35.9,"v":1.02,"p":"T"},{"t":36.2,"v":1.08,"p":"T"},{"t":36.5,"v":0.99,"p":"T"},{"t":36.8,"v":1.03,"p":"T"},{"t":37.1,"v":0.96,"p":"T"},{"t":37.4,"v":1.01,"p":"T"},{"t":37.7,"v":1.05,"p":"T"},{"t":38.0,"v":0.98,"p":"T"},{"t":38.3,"v":1.02,"p":"T"},{"t":38.6,"v":0.97,"p":"T"},{"t":38.9,"v":1.0,"p":"T"},{"t":39.2,"v":0.96,"p":"T"},
{"t":39.5,"v":0.616,"p":"F"},{"t":39.55,"v":0.162,"p":"F"},{"t":39.8,"v":0.155,"p":"F"},{"t":40.0,"v":0.15,"p":"F"},{"t":40.1,"v":0.19,"p":"F"},
{"t":40.4,"v":0.325,"p":"P"},{"t":40.5,"v":0.77,"p":"P"},{"t":40.6,"v":0.88,"p":"P"},{"t":40.9,"v":0.93,"p":"P"},{"t":41.2,"v":1.02,"p":"P"},{"t":41.5,"v":0.9,"p":"P"},{"t":41.8,"v":0.86,"p":"P"},{"t":42.1,"v":0.92,"p":"P"},{"t":42.2,"v":1.03,"p":"P"},{"t":42.4,"v":0.89,"p":"P"},{"t":42.7,"v":0.85,"p":"P"},{"t":43.0,"v":0.9,"p":"P"},{"t":43.3,"v":0.87,"p":"P"},{"t":43.6,"v":0.93,"p":"P"},{"t":43.9,"v":0.88,"p":"P"},{"t":44.2,"v":0.84,"p":"P"},{"t":44.5,"v":0.9,"p":"P"},{"t":44.8,"v":0.87,"p":"P"},{"t":45.1,"v":0.91,"p":"P"},
{"t":45.3,"v":0.82,"p":"F"},{"t":45.6,"v":0.531,"p":"F"},{"t":45.65,"v":0.157,"p":"F"},{"t":45.8,"v":0.148,"p":"F"},{"t":46.2,"v":0.158,"p":"F"},{"t":46.4,"v":0.124,"p":"F"},
{"t":46.5,"v":0.776,"p":"T"},{"t":46.6,"v":0.93,"p":"T"},{"t":46.9,"v":0.95,"p":"T"},{"t":47.2,"v":0.97,"p":"T"},{"t":47.5,"v":0.96,"p":"T"},{"t":47.8,"v":0.99,"p":"T"},{"t":48.1,"v":1.0,"p":"T"},{"t":48.4,"v":0.98,"p":"T"},{"t":48.7,"v":1.02,"p":"T"},{"t":49.0,"v":1.01,"p":"T"},{"t":49.3,"v":1.0,"p":"T"},{"t":49.5,"v":1.2,"p":"T"},{"t":49.8,"v":1.03,"p":"T"},{"t":50.1,"v":1.05,"p":"T"},{"t":50.4,"v":1.02,"p":"T"},{"t":50.7,"v":1.06,"p":"T"},{"t":51.0,"v":1.08,"p":"T"},{"t":51.3,"v":1.04,"p":"T"},{"t":51.6,"v":1.1,"p":"T"},{"t":51.9,"v":1.12,"p":"T"},{"t":52.2,"v":1.07,"p":"T"},{"t":52.6,"v":1.15,"p":"T"},{"t":52.9,"v":1.09,"p":"T"},{"t":53.2,"v":1.05,"p":"T"},{"t":53.5,"v":1.12,"p":"T"},{"t":53.8,"v":1.08,"p":"T"},{"t":54.1,"v":1.1,"p":"T"},{"t":54.4,"v":1.05,"p":"T"},{"t":54.7,"v":1.13,"p":"T"},{"t":55.0,"v":1.07,"p":"T"},{"t":55.3,"v":1.09,"p":"T"},{"t":55.6,"v":1.04,"p":"T"},{"t":55.9,"v":1.06,"p":"T"},{"t":56.2,"v":1.02,"p":"T"},{"t":56.5,"v":0.98,"p":"T"},
{"t":56.7,"v":0.209,"p":"F"},{"t":56.85,"v":0.182,"p":"F"},{"t":57.0,"v":0.174,"p":"F"},{"t":57.2,"v":0.171,"p":"F"},{"t":57.1,"v":0.143,"p":"F"},
{"t":57.6,"v":1.29,"p":"P"},{"t":57.8,"v":0.77,"p":"P"},{"t":58.0,"v":0.85,"p":"P"},{"t":58.2,"v":0.8,"p":"P"},{"t":58.3,"v":0.88,"p":"P"},{"t":58.6,"v":0.83,"p":"P"},{"t":58.9,"v":0.86,"p":"P"},{"t":59.0,"v":0.9,"p":"P"},{"t":59.2,"v":0.82,"p":"P"},{"t":59.5,"v":0.85,"p":"P"},{"t":59.8,"v":0.82,"p":"P"},{"t":60.0,"v":0.8,"p":"P"},{"t":60.1,"v":0.84,"p":"P"},{"t":60.4,"v":0.86,"p":"P"},{"t":60.7,"v":0.83,"p":"P"},{"t":61.0,"v":0.87,"p":"P"},{"t":61.1,"v":0.81,"p":"P"},{"t":61.3,"v":0.85,"p":"P"},{"t":61.6,"v":0.88,"p":"P"},{"t":61.9,"v":0.92,"p":"P"},{"t":62.0,"v":0.84,"p":"P"},{"t":62.2,"v":0.86,"p":"P"},{"t":62.5,"v":0.89,"p":"P"},{"t":62.9,"v":1.42,"p":"P"},{"t":63.0,"v":0.87,"p":"P"},{"t":63.2,"v":0.9,"p":"P"},{"t":63.5,"v":1.17,"p":"P"},{"t":63.8,"v":0.88,"p":"P"},{"t":64.0,"v":0.95,"p":"P"},{"t":64.1,"v":0.92,"p":"P"},{"t":64.4,"v":1.09,"p":"P"},{"t":64.7,"v":0.9,"p":"P"},{"t":65.0,"v":0.94,"p":"P"},{"t":65.1,"v":0.89,"p":"P"},{"t":65.3,"v":0.91,"p":"P"},{"t":65.6,"v":0.96,"p":"P"},{"t":65.9,"v":0.93,"p":"P"},{"t":66.0,"v":1.0,"p":"P"},{"t":66.2,"v":0.97,"p":"P"},{"t":66.5,"v":0.95,"p":"P"},{"t":66.8,"v":1.0,"p":"P"},{"t":67.0,"v":0.93,"p":"P"},{"t":67.1,"v":0.97,"p":"P"},{"t":67.4,"v":1.02,"p":"P"},{"t":67.6,"v":0.98,"p":"P"},
{"t":67.7,"v":0.714,"p":"F"},{"t":67.8,"v":0.369,"p":"F"},{"t":68.0,"v":0.208,"p":"F"},{"t":68.2,"v":0.195,"p":"F"},{"t":68.3,"v":0.2,"p":"F"},{"t":68.4,"v":0.19,"p":"F"},
{"t":68.5,"v":0.309,"p":"T"},{"t":68.7,"v":0.652,"p":"T"},{"t":69.1,"v":1.37,"p":"T"},{"t":68.6,"v":0.97,"p":"T"},{"t":68.9,"v":1.06,"p":"T"},{"t":69.2,"v":1.1,"p":"T"},{"t":69.5,"v":1.05,"p":"T"},{"t":69.8,"v":1.12,"p":"T"},{"t":70.1,"v":1.08,"p":"T"},{"t":70.4,"v":1.03,"p":"T"},{"t":70.7,"v":1.1,"p":"T"},{"t":71.0,"v":1.05,"p":"T"},{"t":71.3,"v":1.02,"p":"T"},{"t":71.6,"v":1.07,"p":"T"},{"t":71.9,"v":1.03,"p":"T"},{"t":72.2,"v":0.99,"p":"T"},{"t":72.5,"v":1.04,"p":"T"},{"t":72.8,"v":1.0,"p":"T"},{"t":73.1,"v":1.06,"p":"T"},{"t":73.4,"v":1.02,"p":"T"},{"t":73.7,"v":0.98,"p":"T"},{"t":74.0,"v":1.03,"p":"T"},{"t":74.3,"v":1.05,"p":"T"},{"t":74.6,"v":1.01,"p":"T"},{"t":74.9,"v":1.07,"p":"T"},{"t":75.2,"v":1.03,"p":"T"},{"t":75.5,"v":1.0,"p":"T"},{"t":75.8,"v":1.05,"p":"T"},{"t":76.1,"v":1.08,"p":"T"},{"t":76.4,"v":1.02,"p":"T"},{"t":76.7,"v":1.06,"p":"T"},{"t":77.0,"v":1.1,"p":"T"},{"t":77.3,"v":1.04,"p":"T"},{"t":77.6,"v":1.07,"p":"T"},{"t":77.9,"v":1.02,"p":"T"},{"t":78.2,"v":1.05,"p":"T"},{"t":78.5,"v":1.1,"p":"T"},{"t":78.8,"v":1.07,"p":"T"},{"t":79.0,"v":1.03,"p":"T"},
{"t":78.8,"v":0.521,"p":"F"},{"t":79.1,"v":0.211,"p":"F"},{"t":79.2,"v":0.202,"p":"F"},{"t":79.3,"v":0.198,"p":"F"},{"t":79.4,"v":0.193,"p":"F"},
{"t":79.8,"v":0.388,"p":"P"},{"t":80.0,"v":0.79,"p":"P"},{"t":80.2,"v":0.93,"p":"P"},{"t":80.5,"v":1.0,"p":"P"},{"t":80.9,"v":1.11,"p":"P"},{"t":81.1,"v":0.96,"p":"P"},{"t":81.4,"v":0.92,"p":"P"},{"t":81.7,"v":0.98,"p":"P"},{"t":82.0,"v":0.9,"p":"P"},{"t":82.3,"v":0.94,"p":"P"},{"t":82.6,"v":1.05,"p":"P"},{"t":82.9,"v":0.9,"p":"P"},{"t":83.2,"v":1.07,"p":"P"},{"t":83.5,"v":0.92,"p":"P"},{"t":83.8,"v":0.89,"p":"P"},{"t":84.1,"v":0.95,"p":"P"},{"t":84.4,"v":0.88,"p":"P"},{"t":84.7,"v":0.91,"p":"P"},{"t":85.0,"v":0.87,"p":"P"},{"t":85.3,"v":0.9,"p":"P"},{"t":85.6,"v":0.88,"p":"P"},{"t":85.9,"v":0.92,"p":"P"},{"t":86.2,"v":0.88,"p":"P"},{"t":86.5,"v":0.9,"p":"P"},{"t":86.8,"v":0.87,"p":"P"},{"t":87.1,"v":0.91,"p":"P"},{"t":87.4,"v":0.89,"p":"P"},{"t":87.7,"v":0.93,"p":"P"},{"t":88.0,"v":0.9,"p":"P"},{"t":88.3,"v":0.95,"p":"P"},{"t":88.5,"v":1.16,"p":"P"},{"t":88.6,"v":1.0,"p":"P"},{"t":88.9,"v":0.97,"p":"P"},{"t":89.0,"v":1.27,"p":"P"},{"t":89.2,"v":0.93,"p":"P"},{"t":89.3,"v":1.14,"p":"P"},{"t":89.5,"v":0.98,"p":"P"},
{"t":89.8,"v":0.76,"p":"F"},{"t":90.3,"v":0.765,"p":"F"},{"t":90.0,"v":0.487,"p":"F"},{"t":90.7,"v":0.234,"p":"F"},{"t":90.1,"v":0.178,"p":"F"},{"t":90.4,"v":0.169,"p":"F"},
{"t":90.9,"v":0.373,"p":"T"},{"t":91.0,"v":0.97,"p":"T"},{"t":91.2,"v":1.0,"p":"T"},{"t":91.5,"v":1.04,"p":"T"},{"t":91.8,"v":1.08,"p":"T"},{"t":92.1,"v":1.06,"p":"T"},{"t":92.4,"v":1.12,"p":"T"},{"t":92.7,"v":1.09,"p":"T"},{"t":93.0,"v":1.05,"p":"T"},{"t":93.3,"v":1.1,"p":"T"},{"t":93.6,"v":1.14,"p":"T"},{"t":93.9,"v":1.08,"p":"T"},{"t":94.2,"v":1.12,"p":"T"},{"t":94.4,"v":1.53,"p":"T"},{"t":94.5,"v":1.07,"p":"T"},{"t":94.8,"v":1.11,"p":"T"},{"t":95.1,"v":1.15,"p":"T"},{"t":95.4,"v":1.09,"p":"T"},{"t":95.7,"v":1.13,"p":"T"},{"t":96.0,"v":1.08,"p":"T"},{"t":96.3,"v":1.12,"p":"T"},{"t":96.6,"v":1.1,"p":"T"},{"t":96.9,"v":1.14,"p":"T"},{"t":97.2,"v":1.09,"p":"T"},{"t":97.5,"v":1.32,"p":"T"},{"t":97.8,"v":1.12,"p":"T"},{"t":98.1,"v":1.08,"p":"T"},{"t":98.4,"v":1.11,"p":"T"},{"t":98.7,"v":1.15,"p":"T"},{"t":99.0,"v":1.1,"p":"T"},{"t":99.3,"v":1.13,"p":"T"},{"t":99.6,"v":1.09,"p":"T"},{"t":99.8,"v":1.27,"p":"T"},{"t":100.2,"v":1.12,"p":"T"},{"t":100.5,"v":1.16,"p":"T"},{"t":100.8,"v":1.1,"p":"T"},{"t":101.1,"v":1.14,"p":"T"},{"t":101.4,"v":1.08,"p":"T"},{"t":101.7,"v":1.11,"p":"T"},{"t":102.0,"v":1.07,"p":"T"},{"t":102.3,"v":1.2,"p":"T"},{"t":102.6,"v":1.1,"p":"T"},{"t":102.8,"v":1.39,"p":"T"},{"t":103.1,"v":1.07,"p":"T"},{"t":103.4,"v":1.12,"p":"T"},{"t":103.7,"v":1.08,"p":"T"},{"t":104.0,"v":1.11,"p":"T"},{"t":104.3,"v":1.09,"p":"T"},{"t":104.6,"v":1.13,"p":"T"},{"t":104.9,"v":1.1,"p":"T"},{"t":105.3,"v":1.56,"p":"T"},{"t":105.5,"v":1.08,"p":"T"},{"t":105.8,"v":1.12,"p":"T"},{"t":106.1,"v":1.09,"p":"T"},{"t":106.4,"v":1.14,"p":"T"},{"t":106.7,"v":1.1,"p":"T"},{"t":107.0,"v":1.13,"p":"T"},{"t":107.3,"v":1.17,"p":"T"},{"t":107.6,"v":1.12,"p":"T"},{"t":107.9,"v":1.15,"p":"T"},{"t":108.2,"v":1.1,"p":"T"},{"t":108.4,"v":1.9,"p":"T"},{"t":108.45,"v":1.3,"p":"T"},{"t":108.7,"v":1.13,"p":"T"},{"t":109.0,"v":1.16,"p":"T"},{"t":109.3,"v":1.11,"p":"T"},{"t":109.6,"v":1.18,"p":"T"},{"t":109.9,"v":1.13,"p":"T"},{"t":110.2,"v":1.15,"p":"T"},{"t":110.5,"v":1.1,"p":"T"},{"t":110.8,"v":1.14,"p":"T"},{"t":111.1,"v":1.08,"p":"T"},{"t":111.4,"v":1.12,"p":"T"},{"t":111.7,"v":1.06,"p":"T"},{"t":112.0,"v":1.1,"p":"T"},{"t":112.3,"v":1.05,"p":"T"},{"t":112.6,"v":1.09,"p":"T"},{"t":112.9,"v":1.12,"p":"T"},{"t":113.2,"v":1.07,"p":"T"},{"t":113.5,"v":1.11,"p":"T"},{"t":113.8,"v":1.14,"p":"T"},{"t":114.1,"v":1.09,"p":"T"},{"t":114.4,"v":1.12,"p":"T"},{"t":114.7,"v":1.1,"p":"T"},{"t":115.0,"v":1.13,"p":"T"},{"t":115.3,"v":1.03,"p":"T"},{"t":115.6,"v":1.11,"p":"T"},{"t":115.9,"v":1.14,"p":"T"},{"t":116.2,"v":1.1,"p":"T"},{"t":116.7,"v":1.7,"p":"T"},{"t":116.5,"v":1.12,"p":"T"},{"t":116.8,"v":1.08,"p":"T"},{"t":117.1,"v":1.13,"p":"T"},{"t":117.4,"v":1.1,"p":"T"},{"t":117.7,"v":1.15,"p":"T"},{"t":118.0,"v":1.11,"p":"T"},{"t":118.3,"v":1.13,"p":"T"},{"t":118.6,"v":1.09,"p":"T"},{"t":118.9,"v":1.12,"p":"T"},{"t":119.2,"v":1.08,"p":"T"},{"t":119.5,"v":1.11,"p":"T"},{"t":119.8,"v":1.14,"p":"T"},{"t":120.1,"v":1.1,"p":"T"},{"t":120.4,"v":1.12,"p":"T"},
{"t":120.5,"v":1.11,"p":"F"},{"t":120.8,"v":1.09,"p":"F"},{"t":121.9,"v":1.03,"p":"F"},
{"t":121.2,"v":0.306,"p":"F"},{"t":122.7,"v":0.308,"p":"F"},{"t":121.8,"v":0.285,"p":"F"},{"t":122.5,"v":0.264,"p":"F"},{"t":122.1,"v":0.232,"p":"F"},{"t":121.2,"v":0.216,"p":"F"},{"t":121.5,"v":0.21,"p":"F"},{"t":121.9,"v":0.2,"p":"F"},{"t":122.2,"v":0.195,"p":"F"},{"t":122.5,"v":0.19,"p":"F"},{"t":122.8,"v":0.2,"p":"F"},{"t":123.1,"v":0.185,"p":"F"},{"t":123.4,"v":0.195,"p":"F"},{"t":123.7,"v":0.19,"p":"F"},{"t":124.0,"v":0.18,"p":"F"},{"t":124.3,"v":0.2,"p":"F"},{"t":124.6,"v":0.185,"p":"F"},{"t":123.15,"v":0.16,"p":"F"},{"t":124.65,"v":0.163,"p":"F"},{"t":125.8,"v":0.158,"p":"F"},{"t":125.3,"v":0.17,"p":"F"},{"t":124.9,"v":0.178,"p":"F"},
{"t":126.2,"v":0.622,"p":"P"},{"t":126.3,"v":0.94,"p":"P"},{"t":126.6,"v":0.98,"p":"P"},{"t":126.9,"v":1.0,"p":"P"},{"t":127.2,"v":1.03,"p":"P"},{"t":127.5,"v":1.0,"p":"P"},{"t":127.8,"v":1.05,"p":"P"},{"t":128.1,"v":1.02,"p":"P"},{"t":128.4,"v":1.0,"p":"P"},{"t":128.7,"v":1.04,"p":"P"},{"t":129.0,"v":1.01,"p":"P"},{"t":129.3,"v":1.06,"p":"P"},{"t":129.6,"v":1.03,"p":"P"},{"t":129.9,"v":1.0,"p":"P"},{"t":130.2,"v":1.05,"p":"P"},{"t":130.5,"v":1.08,"p":"P"},{"t":130.8,"v":1.03,"p":"P"},{"t":131.1,"v":1.06,"p":"P"},{"t":131.4,"v":1.02,"p":"P"},{"t":131.7,"v":1.07,"p":"P"},{"t":132.0,"v":1.04,"p":"P"},{"t":132.3,"v":1.1,"p":"P"},{"t":132.6,"v":1.05,"p":"P"},{"t":132.9,"v":1.02,"p":"P"},{"t":133.2,"v":1.07,"p":"P"},{"t":133.5,"v":1.04,"p":"P"},{"t":133.8,"v":1.09,"p":"P"},{"t":134.1,"v":1.06,"p":"P"},{"t":134.4,"v":1.03,"p":"P"},{"t":134.7,"v":1.08,"p":"P"},{"t":135.0,"v":1.05,"p":"P"},{"t":135.3,"v":1.17,"p":"P"},{"t":135.6,"v":1.07,"p":"P"},{"t":135.9,"v":1.04,"p":"P"},{"t":136.2,"v":1.09,"p":"P"},{"t":136.4,"v":1.25,"p":"P"},{"t":136.7,"v":1.06,"p":"P"},{"t":137.0,"v":1.1,"p":"P"},{"t":137.3,"v":1.05,"p":"P"},{"t":137.6,"v":1.08,"p":"P"},{"t":137.9,"v":1.12,"p":"P"},{"t":138.2,"v":1.06,"p":"P"},{"t":138.5,"v":1.09,"p":"P"},{"t":138.7,"v":1.17,"p":"P"},{"t":139.0,"v":1.05,"p":"P"},{"t":139.3,"v":1.1,"p":"P"},{"t":139.6,"v":1.07,"p":"P"},{"t":139.9,"v":1.11,"p":"P"},{"t":140.2,"v":1.06,"p":"P"},{"t":140.5,"v":1.09,"p":"P"},{"t":140.8,"v":1.15,"p":"P"},{"t":141.1,"v":1.07,"p":"P"},{"t":141.4,"v":1.1,"p":"P"},{"t":141.7,"v":1.05,"p":"P"},{"t":142.0,"v":1.09,"p":"P"},{"t":142.3,"v":1.34,"p":"P"},{"t":142.6,"v":1.07,"p":"P"},{"t":142.9,"v":1.1,"p":"P"},{"t":143.1,"v":1.29,"p":"P"},{"t":143.4,"v":1.06,"p":"P"},{"t":143.7,"v":1.09,"p":"P"},{"t":144.0,"v":1.12,"p":"P"},{"t":144.3,"v":1.07,"p":"P"},{"t":144.6,"v":1.1,"p":"P"},{"t":144.9,"v":1.3,"p":"P"},{"t":145.2,"v":1.08,"p":"P"},{"t":145.5,"v":1.11,"p":"P"},{"t":145.8,"v":1.06,"p":"P"},{"t":146.1,"v":1.09,"p":"P"},{"t":146.4,"v":1.12,"p":"P"},{"t":146.7,"v":1.07,"p":"P"},{"t":147.0,"v":1.1,"p":"P"},{"t":147.3,"v":1.08,"p":"P"},{"t":147.6,"v":1.42,"p":"P"},{"t":147.9,"v":1.11,"p":"P"},{"t":148.2,"v":1.06,"p":"P"},{"t":148.5,"v":1.09,"p":"P"},{"t":148.7,"v":1.37,"p":"P"},{"t":149.0,"v":1.1,"p":"P"},{"t":149.3,"v":1.07,"p":"P"},{"t":149.6,"v":1.12,"p":"P"},{"t":149.9,"v":1.08,"p":"P"},{"t":150.2,"v":1.1,"p":"P"},{"t":150.5,"v":1.06,"p":"P"},{"t":150.8,"v":1.09,"p":"P"},{"t":151.1,"v":1.12,"p":"P"},{"t":151.4,"v":1.07,"p":"P"},{"t":151.7,"v":1.1,"p":"P"},{"t":152.0,"v":1.08,"p":"P"},{"t":152.3,"v":1.11,"p":"P"},{"t":152.6,"v":1.07,"p":"P"},{"t":152.9,"v":1.1,"p":"P"},{"t":153.2,"v":1.13,"p":"P"},{"t":153.5,"v":1.08,"p":"P"},{"t":153.8,"v":1.1,"p":"P"},{"t":154.1,"v":1.07,"p":"P"},{"t":154.4,"v":1.11,"p":"P"},{"t":154.7,"v":1.09,"p":"P"},{"t":155.0,"v":1.12,"p":"P"},{"t":155.3,"v":1.08,"p":"P"},{"t":155.6,"v":1.1,"p":"P"},{"t":155.9,"v":1.27,"p":"P"},{"t":156.1,"v":1.07,"p":"P"},
{"t":156.1,"v":0.853,"p":"F"},{"t":156.8,"v":0.652,"p":"F"},{"t":156.3,"v":0.422,"p":"F"},{"t":156.9,"v":0.263,"p":"F"},{"t":157.8,"v":0.249,"p":"F"},{"t":156.7,"v":0.23,"p":"F"},{"t":156.95,"v":0.22,"p":"F"},{"t":157.2,"v":0.215,"p":"F"},{"t":157.5,"v":0.21,"p":"F"},{"t":157.9,"v":0.212,"p":"F"},{"t":158.3,"v":0.208,"p":"F"},{"t":158.7,"v":0.213,"p":"F"},{"t":159.1,"v":0.209,"p":"F"},{"t":159.5,"v":0.214,"p":"F"},{"t":159.9,"v":0.207,"p":"F"},{"t":160.3,"v":0.21,"p":"F"},{"t":160.7,"v":0.213,"p":"F"},{"t":161.1,"v":0.206,"p":"F"},{"t":161.4,"v":0.211,"p":"F"},{"t":158.0,"v":0.22,"p":"F"},{"t":159.0,"v":0.205,"p":"F"},{"t":160.0,"v":0.216,"p":"F"},
{"t":161.1,"v":0.81,"p":"T"},{"t":160.9,"v":1.28,"p":"T"},{"t":161.2,"v":1.24,"p":"T"},{"t":161.5,"v":1.27,"p":"T"},{"t":161.8,"v":1.22,"p":"T"},{"t":162.1,"v":1.25,"p":"T"},{"t":162.4,"v":1.21,"p":"T"},{"t":162.7,"v":1.23,"p":"T"},{"t":163.0,"v":1.2,"p":"T"},{"t":163.3,"v":1.22,"p":"T"},{"t":163.6,"v":1.18,"p":"T"},{"t":163.9,"v":1.2,"p":"T"},{"t":164.2,"v":1.17,"p":"T"},{"t":164.5,"v":1.19,"p":"T"},{"t":164.8,"v":1.15,"p":"T"},{"t":165.1,"v":1.18,"p":"T"},{"t":165.4,"v":1.14,"p":"T"},{"t":165.7,"v":1.16,"p":"T"},{"t":166.0,"v":1.12,"p":"T"},{"t":166.3,"v":1.15,"p":"T"},{"t":166.6,"v":1.13,"p":"T"},{"t":166.9,"v":1.11,"p":"T"},{"t":167.2,"v":1.14,"p":"T"},{"t":167.5,"v":1.12,"p":"T"},{"t":167.8,"v":1.16,"p":"T"},{"t":168.1,"v":1.13,"p":"T"},{"t":168.3,"v":1.46,"p":"T"},{"t":168.4,"v":1.38,"p":"T"},{"t":168.7,"v":1.11,"p":"T"},{"t":169.0,"v":1.14,"p":"T"},{"t":169.3,"v":1.09,"p":"T"},{"t":169.6,"v":1.12,"p":"T"},{"t":169.9,"v":1.15,"p":"T"},{"t":170.2,"v":1.13,"p":"T"},{"t":170.5,"v":1.17,"p":"T"},{"t":170.8,"v":1.14,"p":"T"},{"t":171.1,"v":1.18,"p":"T"},{"t":171.5,"v":1.54,"p":"T"},{"t":171.4,"v":1.16,"p":"T"},{"t":171.7,"v":1.2,"p":"T"},{"t":172.0,"v":1.17,"p":"T"},{"t":172.3,"v":1.21,"p":"T"},{"t":172.6,"v":1.18,"p":"T"},{"t":172.9,"v":1.22,"p":"T"},{"t":173.2,"v":1.19,"p":"T"},{"t":173.5,"v":1.23,"p":"T"},{"t":173.8,"v":1.2,"p":"T"},{"t":174.1,"v":1.24,"p":"T"},{"t":174.4,"v":1.21,"p":"T"},{"t":174.7,"v":1.25,"p":"T"},{"t":175.0,"v":1.22,"p":"T"},{"t":175.3,"v":1.26,"p":"T"},{"t":175.6,"v":1.21,"p":"T"},{"t":175.9,"v":1.24,"p":"T"},{"t":176.2,"v":1.36,"p":"T"},{"t":176.5,"v":1.22,"p":"T"},{"t":176.8,"v":1.26,"p":"T"},{"t":177.1,"v":1.21,"p":"T"},{"t":177.3,"v":1.36,"p":"T"},{"t":177.5,"v":1.25,"p":"T"},{"t":177.8,"v":1.22,"p":"T"},{"t":178.1,"v":1.27,"p":"T"},{"t":178.4,"v":1.23,"p":"T"},{"t":178.7,"v":1.26,"p":"T"},{"t":179.0,"v":1.22,"p":"T"},{"t":179.3,"v":1.31,"p":"T"},{"t":179.6,"v":1.24,"p":"T"},{"t":179.9,"v":1.21,"p":"T"},{"t":180.2,"v":1.26,"p":"T"},{"t":180.5,"v":1.23,"p":"T"},{"t":180.8,"v":1.27,"p":"T"},{"t":181.1,"v":1.22,"p":"T"},{"t":181.3,"v":1.47,"p":"T"},{"t":181.5,"v":1.25,"p":"T"},{"t":181.8,"v":1.21,"p":"T"},{"t":182.1,"v":1.26,"p":"T"},{"t":182.4,"v":1.23,"p":"T"},{"t":182.7,"v":1.28,"p":"T"},{"t":183.0,"v":1.24,"p":"T"},{"t":183.3,"v":1.33,"p":"T"},{"t":183.6,"v":1.22,"p":"T"},{"t":183.9,"v":1.26,"p":"T"},{"t":184.2,"v":1.21,"p":"T"},{"t":184.5,"v":1.25,"p":"T"},{"t":184.8,"v":1.28,"p":"T"},{"t":185.1,"v":1.23,"p":"T"},{"t":185.4,"v":1.26,"p":"T"},{"t":185.7,"v":1.21,"p":"T"},{"t":186.0,"v":1.24,"p":"T"},{"t":186.3,"v":1.22,"p":"T"},
{"t":186.4,"v":0.515,"p":"F"},{"t":186.6,"v":0.232,"p":"F"},{"t":186.8,"v":0.228,"p":"F"},{"t":186.9,"v":0.222,"p":"F"}
],
"campBoxes":[
{"x1":0.23,"x2":9.26,"lo":1.449,"hi":3.346,"label":"A"},
{"x1":9.26,"x2":22.1,"lo":1.449,"hi":3.346,"label":"B"},
{"x1":22.1,"x2":45.9,"lo":1.449,"hi":3.346,"label":"C"},
{"x1":45.9,"x2":89.2,"lo":1.449,"hi":3.346,"label":"D"},
{"x1":89.2,"x2":188.2,"lo":1.449,"hi":3.346,"label":"E"},
{"x1":130.8,"x2":190.44,"lo":3.96,"hi":9.35,"label":"Camphor Gas Trace"}
],
"levoBoxes":[
{"x1":106.2,"x2":190.44,"lo":2.0,"hi":3.15,"label":"Levoglucosan Particles Trace"}
]
},
"spacing":85,
"bounds":"flush",
"resolve":{"scale":{"color":"shared"},"legend":{"color":"shared"}},
"vconcat":[
{
"width":863,"height":286,
"layer":[
{"data":{"name":"camphor"},"mark":{"type":"circle","size":30,"opacity":1},
"encoding":{
"x":{"field":"t","type":"quantitative","scale":{"domain":[-4.52,190.44],"nice":false,"zero":false},"axis":null},
"y":{"field":"v","type":"quantitative","scale":{"type":"log","domain":[0.01,3.96],"nice":false},
"axis":{"orient":"left","values":[0.01,0.02,0.03,0.04,0.05,0.06,0.07,0.08,0.09,0.1,0.2,0.3,0.4,0.5,0.6,0.7,0.8,0.9,1,2,3],
"labelExpr":"datum.value==1?'10\u2070':datum.value==0.1?'10\u207b\u00b9':datum.value==0.01?'10\u207b\u00b2':''",
"tickSize":{"condition":{"test":"datum.value==1||datum.value==0.1||datum.value==0.01","value":-10},"value":-6},
"labelPadding":25,"labelOffset":5,"title":null}},
"color":{"field":"p","type":"nominal","scale":{"domain":["T","P","F"],"range":["#0000ff","#00ff00","#ff0000"]},
"legend":{"orient":"none","legendX":589,"legendY":125,"title":null,"direction":"vertical","symbolType":"circle","symbolSize":1,"symbolOpacity":0,"symbolStrokeWidth":0,"symbolOffset":0,"labelOffset":-23,"labelLimit":400,"labelFontSize":26,"labelFont":"Liberation Sans","strokeColor":"#262626","fillColor":"white","padding":7,"rowPadding":2,
"labelExpr":"datum.label=='T'?'Total Phase':datum.label=='P'?'Particle Phase':'Filter Phase'",
"encode":{"labels":{"update":{"fill":{"signal":"scale('color', datum.value)"}}}}}}
}},
{"data":{"name":"campBoxes"},"mark":{"type":"rect","fill":"white","fillOpacity":0,"stroke":"#262626","strokeWidth":1.3,"clip":false},
"encoding":{
"x":{"field":"x1","type":"quantitative","axis":null},"x2":{"field":"x2"},
"y":{"field":"lo","type":"quantitative","axis":{"orient":"right","values":[0.01,0.02,0.03,0.04,0.05,0.06,0.07,0.08,0.09,0.1,0.2,0.3,0.4,0.5,0.6,0.7,0.8,0.9,1,2,3],"labels":false,"tickSize":{"condition":{"test":"datum.value==1||datum.value==0.1||datum.value==0.01","value":-10},"value":-6},"title":null}},
"y2":{"field":"hi"}}},
{"data":{"name":"campBoxes"},"mark":{"type":"text","align":"left","baseline":"alphabetic","dx":14,"dy":-6,"fontSize":25,"font":"Liberation Sans","color":"black","clip":false},
"encoding":{
"x":{"field":"x1","type":"quantitative","axis":null},
"y":{"field":"lo","type":"quantitative","axis":null},
"text":{"field":"label"}}}
],
"resolve":{"axis":{"x":"independent","y":"independent"}}
},
{
"width":863,"height":263,
"layer":[
{"data":{"name":"levo"},"mark":{"type":"circle","size":30,"opacity":1},
"encoding":{
"x":{"field":"t","type":"quantitative","scale":{"domain":[-4.52,190.44],"nice":false,"zero":false},
"axis":{"orient":"bottom","values":[0,60,120,180],"labelExpr":"'0'+(datum.value/60)+':00'","labelFontSize":34,"tickSize":-10,"labelPadding":35,"title":"Duration (hour:minute)","titlePadding":18,"titleFontSize":31}},
"y":{"field":"v","type":"quantitative","scale":{"type":"log","domain":[0.1,2],"nice":false},
"axis":{"orient":"left","values":[0.1,0.2,0.3,0.4,0.5,0.6,0.7,0.8,0.9,1,2],
"labelExpr":"datum.value==1?'10\u2070':datum.value==0.1?'10\u207b\u00b9':''",
"tickSize":{"condition":{"test":"datum.value==1||datum.value==0.1","value":-10},"value":-6},
"labelPadding":25,"labelOffset":5,
"title":"Signal/mean(Signal_TP) (%)","titleFontSize":35,"titleX":-117,"titleY":-50,"titleAngle":-90,"titleAlign":"center","titleBaseline":"middle"}},
"color":{"field":"p","type":"nominal","scale":{"domain":["T","P","F"],"range":["#0000ff","#00ff00","#ff0000"]},
"legend":{"orient":"none","legendX":589,"legendY":125,"title":null,"direction":"vertical","symbolType":"circle","symbolSize":1,"symbolOpacity":0,"symbolStrokeWidth":0,"symbolOffset":0,"labelOffset":-23,"labelLimit":400,"labelFontSize":26,"labelFont":"Liberation Sans","strokeColor":"#262626","fillColor":"white","padding":7,"rowPadding":2,
"labelExpr":"datum.label=='T'?'Total Phase':datum.label=='P'?'Particle Phase':'Filter Phase'",
"encode":{"labels":{"update":{"fill":{"signal":"scale('color', datum.value)"}}}}}}
}},
{"data":{"name":"levoBoxes"},"mark":{"type":"rect","fill":"white","fillOpacity":0,"stroke":"#262626","strokeWidth":1.3,"clip":false},
"encoding":{
"x":{"field":"x1","type":"quantitative","axis":{"orient":"top","values":[0,60,120,180],"labels":false,"tickSize":-10,"title":null}},"x2":{"field":"x2"},
"y":{"field":"lo","type":"quantitative","axis":{"orient":"right","values":[0.1,0.2,0.3,0.4,0.5,0.6,0.7,0.8,0.9,1,2],"labels":false,"tickSize":{"condition":{"test":"datum.value==1||datum.value==0.1","value":-10},"value":-6},"title":null}},
"y2":{"field":"hi"}}},
{"data":{"name":"levoBoxes"},"mark":{"type":"text","align":"left","baseline":"alphabetic","dx":15,"dy":-6,"fontSize":26,"font":"Liberation Sans","color":"black","clip":false},
"encoding":{
"x":{"field":"x1","type":"quantitative","axis":null},
"y":{"field":"lo","type":"quantitative","axis":null},
"text":{"field":"label"}}}
],
"resolve":{"axis":{"x":"independent","y":"independent"}}
}
]
}
